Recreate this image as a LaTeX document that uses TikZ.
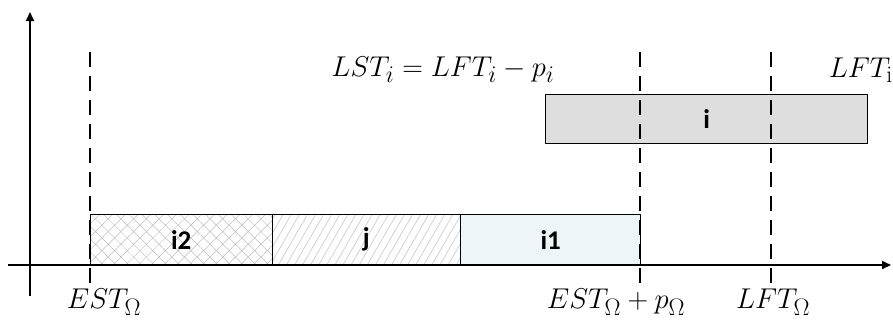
\documentclass[tikz,border=0pt]{standalone}
\usepackage{fontspec}
\newfontfamily\boxfont{Carlito}
\usetikzlibrary{patterns.meta,arrows.meta}
\definecolor{ionefill}{RGB}{238,245,248}
\definecolor{ifill}{RGB}{222,222,222}
\definecolor{hatchgray}{RGB}{190,190,190}
\newcommand{\biglabel}[1]{\scalebox{1.15}{$#1$}}
\tikzset{
  axis/.style={line width=1.8pt,-{Triangle[length=9pt,width=8pt]}},
  guide/.style={line width=1.6pt,dash pattern=on 15pt off 9pt},
  task/.style={draw=black,line width=1.3pt,rectangle,inner sep=0pt,
    font=\boxfont\bfseries\fontsize{27}{29}\selectfont},
  tasktext/.style={font=\boxfont\bfseries\fontsize{27}{29}\selectfont},
  mlabel/.style={font=\fontsize{24.88}{28}\selectfont,inner sep=0pt}
}
\begin{document}
\begin{tikzpicture}[x=1pt,y=-1pt]
\useasboundingbox (0,0) rectangle (893,327);
% axes
\coordinate (xs) at (8,265);
\coordinate (xe) at (891,265);
\coordinate (ys) at (30,296);
\coordinate (ye) at (30,12);
% task boxes
\node[task,anchor=north west,minimum width=182pt,minimum height=51pt,
  pattern={Hatch[angle=45,distance=9pt,line width=0.5pt]},pattern color=hatchgray] (i2) at (90,214) {};
\node[tasktext] (i2t) at (i2.center) {i2};
\node[task,anchor=north west,minimum width=188pt,minimum height=51pt,
  pattern={Lines[angle=60,distance=7pt,line width=0.5pt]},pattern color=hatchgray] (j) at (272,214) {};
\node[tasktext] (jt) at (j.center) {j};
\node[task,anchor=north west,minimum width=180pt,minimum height=51pt,fill=ionefill] (i1) at (460,214) {i1};
\node[task,anchor=north west,minimum width=322pt,minimum height=49pt,fill=ifill] (i) at (545,94) {i};
% guides
\coordinate (g0t) at (90,52);
\coordinate (g0b) at (90,284);
\coordinate (g1t) at (640,52);
\coordinate (g1b) at (640,284);
\coordinate (g2t) at (771,52);
\coordinate (g2b) at (771,284);
\draw[guide] (g0t) -- (g0b);
\draw[guide] (g1t) -- (g1b);
\draw[guide] (g2t) -- (g2b);
\draw[axis] (xs) -- (xe);
\draw[axis] (ys) -- (ye);
% labels
\node[mlabel] (l1) at (104,302) {\biglabel{EST_{\Omega}}};
\node[mlabel] (l2) at (616,302) {\biglabel{EST_{\Omega}+p_{\Omega}}};
\node[mlabel] (l3) at (773,302) {\biglabel{LFT_{\Omega}}};
\node[mlabel] (l4) at (443,70) {\biglabel{LST_i=LFT_i-p_i}};
\node[mlabel,anchor=east] (l5) at (893,70) {\biglabel{LFT_{\mathrm{i}}}};
\end{tikzpicture}
\end{document}
